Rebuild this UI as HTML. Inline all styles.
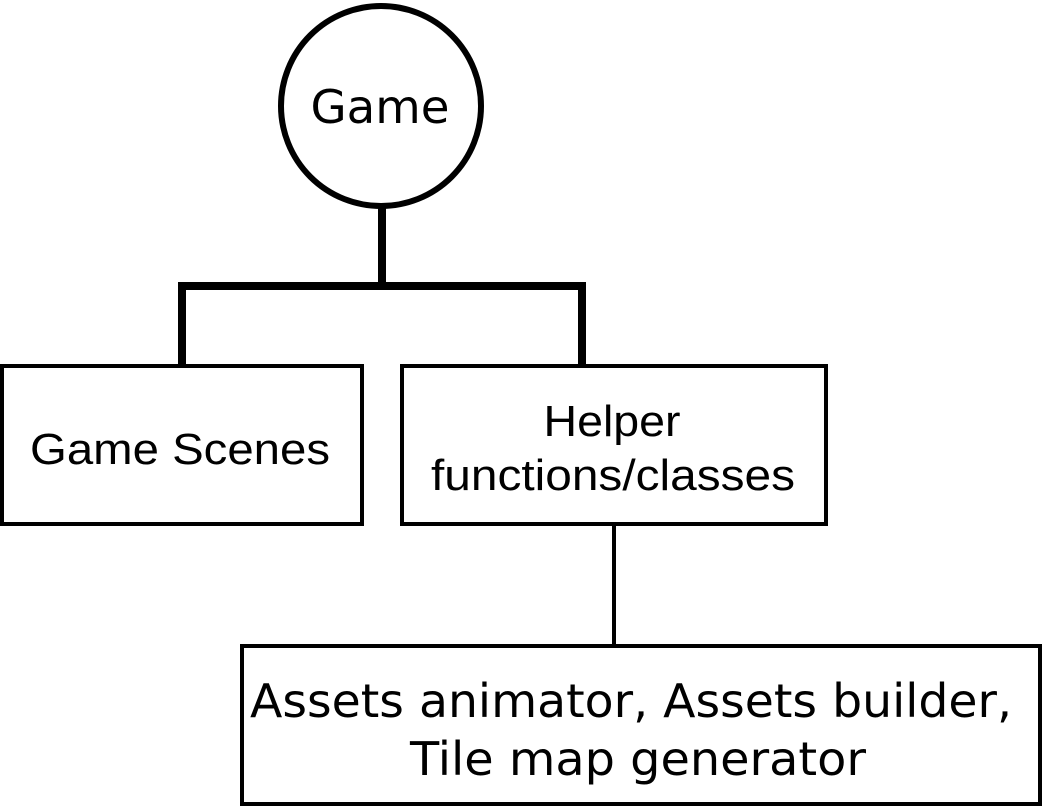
<!DOCTYPE html>
<html><head><style>html,body{margin:0;padding:0;background:#fff}svg{display:block}</style></head>
<body>
<svg width="1044" height="808" viewBox="0 0 1044 808" xmlns="http://www.w3.org/2000/svg">
<circle cx="381" cy="106" r="100" fill="#fff" stroke="#000" stroke-width="6"/>
<text x="380" y="123" font-family="DejaVu Sans, sans-serif" font-size="46" text-anchor="middle" textLength="139" lengthAdjust="spacingAndGlyphs">Game</text>
<line x1="382" y1="208" x2="382" y2="287" stroke="#000" stroke-width="8"/>
<polyline points="182,365 182,286 582,286 582,365" fill="none" stroke="#000" stroke-width="8"/>
<rect x="2" y="366" width="360" height="158" fill="#fff" stroke="#000" stroke-width="4"/>
<text x="180" y="464" font-family="Liberation Sans, Arial, sans-serif" font-size="44" text-anchor="middle" textLength="300" lengthAdjust="spacingAndGlyphs">Game Scenes</text>
<rect x="402" y="366" width="424" height="158" fill="#fff" stroke="#000" stroke-width="4"/>
<text x="612" y="436" font-family="Liberation Sans, Arial, sans-serif" font-size="44" text-anchor="middle" textLength="137" lengthAdjust="spacingAndGlyphs">Helper</text>
<text x="613" y="490" font-family="Liberation Sans, Arial, sans-serif" font-size="44" text-anchor="middle" textLength="364" lengthAdjust="spacingAndGlyphs">functions/classes</text>
<line x1="614" y1="524" x2="614" y2="646" stroke="#000" stroke-width="4"/>
<rect x="242" y="646" width="798" height="158" fill="#fff" stroke="#000" stroke-width="4"/>
<text x="631" y="717" font-family="DejaVu Sans, sans-serif" font-size="46" text-anchor="middle" textLength="762" lengthAdjust="spacingAndGlyphs">Assets animator, Assets builder,</text>
<text x="638" y="775" font-family="DejaVu Sans, sans-serif" font-size="46" text-anchor="middle" textLength="456" lengthAdjust="spacingAndGlyphs">Tile map generator</text>
</svg>
</body></html>
